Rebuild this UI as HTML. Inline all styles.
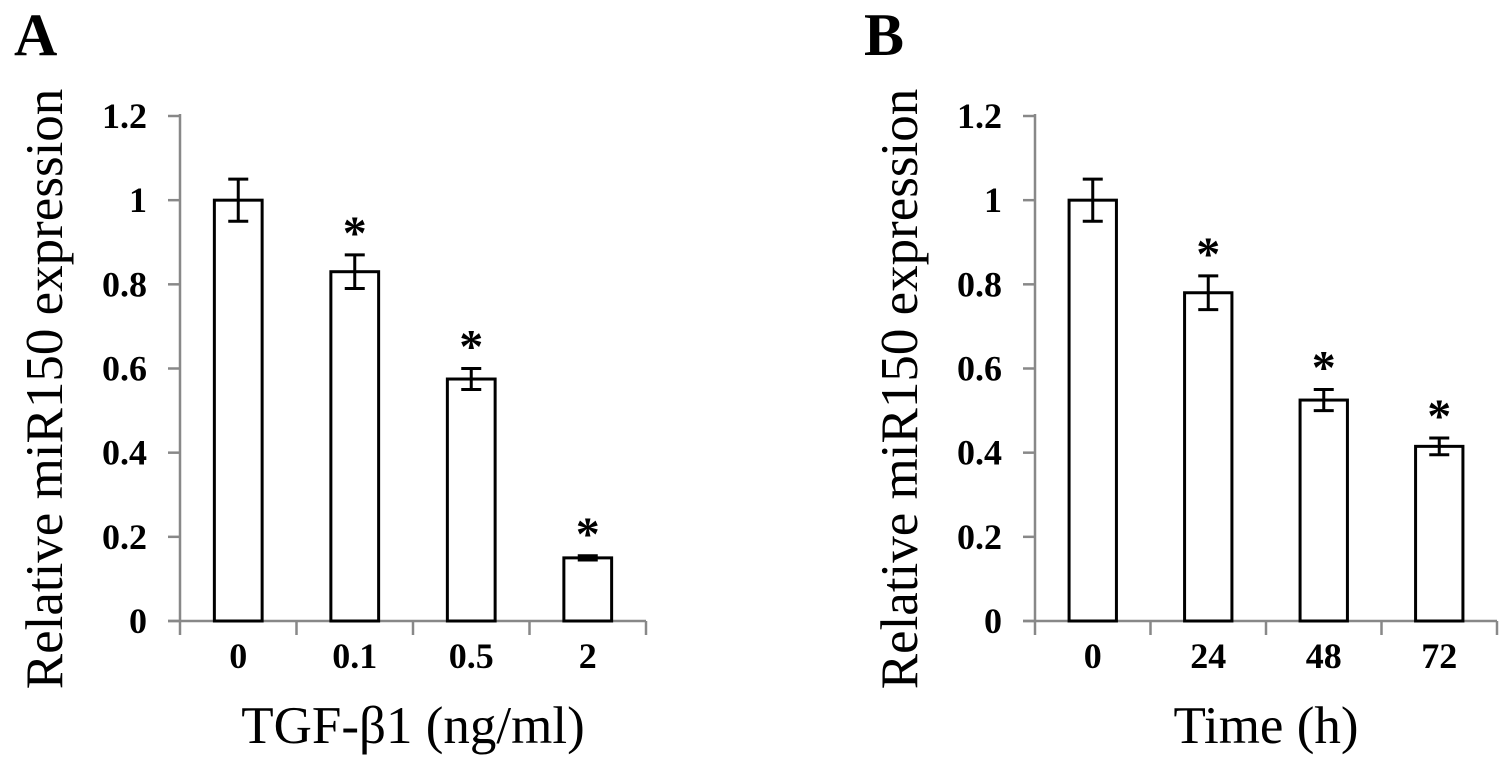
<!DOCTYPE html>
<html><head><meta charset="utf-8"><style>
body{margin:0;background:#fff}
svg{display:block}
text{font-family:"Liberation Serif",serif;fill:#000}
.tk{font-size:36px;font-weight:bold}
.ttl{font-size:53px}
</style></head><body>
<svg id="c" width="1512" height="765"></svg>
<script>
const catsA=["0","0.1","0.5","2"];
const valsA=[1.0,0.83,0.575,0.15];
const errA=[0.05,0.04,0.025,0.005];
const sigA=[false,true,true,true];
const catsB=["0","24","48","72"];
const valsB=[1.0,0.78,0.525,0.415];
const errB=[0.05,0.04,0.025,0.02];
const sigB=[false,true,true,true];
const yTicks=["0","0.2","0.4","0.6","0.8","1","1.2"];
const yTickVals=[0,0.2,0.4,0.6,0.8,1,1.2];
const svg=document.getElementById('c');
const NS="http://www.w3.org/2000/svg";
function mk(t,a,p,txt){const e=document.createElementNS(NS,t);for(const k in a)e.setAttribute(k,a[k]);if(txt!==undefined)e.textContent=txt;(p||svg).appendChild(e);return e;}
function panel(id,x0,x1,cats,vals,errs,sig,xtitle,letter,letterX){
  const g=mk('g',{});
  
  
  const y0=621,yTop=116;
  const ys=v=>y0-(v/1.2)*(y0-yTop);
  const cw=(x1-x0)/cats.length;
  const xs=i=>x0+cw*(i+0.5);
  const L=mk('text',{x:letterX,y:55,'font-size':60,'font-weight':'bold'},g,letter);
  
  
  const ya=mk('line',{x1:x0,y1:yTop-2,x2:x0,y2:y0,stroke:'#888','stroke-width':2.5},g);
  
  
  yTickVals.forEach((v,i)=>{
    mk('line',{x1:x0-12,y1:ys(v),x2:x0,y2:ys(v),stroke:'#888','stroke-width':2.5},g);
    const t=mk('text',{x:x0-33,y:ys(v)+12,'text-anchor':'end',class:'tk'},g,yTicks[i]);
    
    
  });
  const xa=mk('line',{x1:x0-12,y1:y0,x2:x1,y2:y0,stroke:'#888','stroke-width':2.5},g);
  
  
  for(let i=0;i<=cats.length;i++) mk('line',{x1:x0+cw*i,y1:y0,x2:x0+cw*i,y2:y0+14,stroke:'#888','stroke-width':2.5},g);
  const bw=cw*0.41;
  cats.forEach((c,i)=>{
    const cx=xs(i);
    const b=mk('rect',{x:cx-bw/2,y:ys(vals[i]),width:bw,height:y0-ys(vals[i]),fill:'#fff',stroke:'#000','stroke-width':3},g);
    
    
    const hi=ys(vals[i]+errs[i]),lo=ys(vals[i]-errs[i]);
    const eb=mk('path',{d:`M${cx},${hi}V${lo}M${cx-10},${hi}H${cx+10}M${cx-10},${lo}H${cx+10}`,stroke:'#000','stroke-width':3,fill:'none'},g);
    
    
    if(sig[i]){const s=mk('text',{x:cx,y:hi-6,'text-anchor':'middle','font-size':48,'font-weight':'bold'},g,'*');
      
      }
    const t=mk('text',{x:cx,y:668,'text-anchor':'middle',class:'tk'},g,c);
    
    
  });
  const xt=mk('text',{x:(x0+x1)/2,y:743,'text-anchor':'middle',class:'ttl'},g,xtitle);
  
  
  const yx=x0-118,yy=389;
  const yt=mk('text',{x:yx,y:yy,'text-anchor':'middle',class:'ttl',transform:`rotate(-90 ${yx} ${yy})`},g,'Relative miR150 expression');
  
  
}
panel('a',180,646,catsA,valsA,errA,sigA,'TGF-β1 (ng/ml)','A',14);
panel('b',1035,1497,catsB,valsB,errB,sigB,'Time (h)','B',864);
</script>
</body></html>
